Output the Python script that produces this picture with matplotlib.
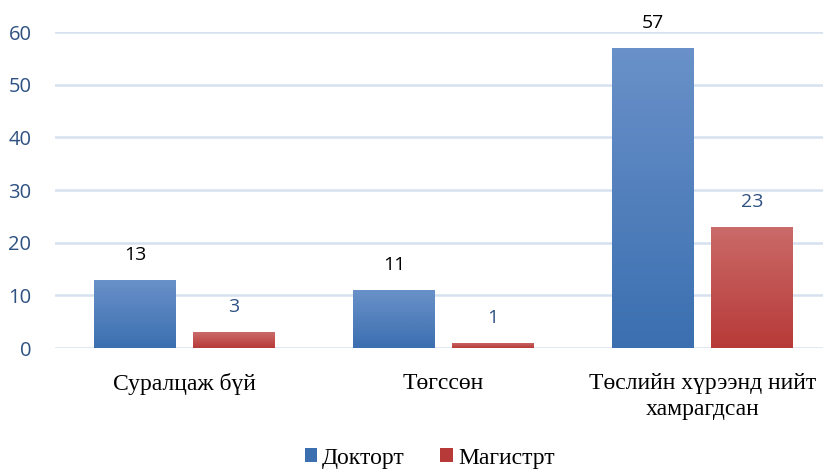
import numpy as np
import matplotlib
matplotlib.use("Agg")
from matplotlib import pyplot as plt
from matplotlib.colors import LinearSegmentedColormap
from matplotlib.patches import Patch

categories = ["Суралцаж бүй", "Төгссөн", "Төслийн хүрээнд нийт\nхамрагдсан"]
doctor = [13, 11, 57]
master = [3, 1, 23]
series_names = ["Докторт", "Магистрт"]
y_ticks = [0, 10, 20, 30, 40, 50, 60]

BLUE_TOP, BLUE_BOT = "#6A91C9", "#3B6FB0"
RED_TOP, RED_BOT = "#CA6B69", "#B73A38"
TICK_COLOR = "#2E5182"
GRID_COLOR = "#D6E1F0"

fig = plt.figure(figsize=(8.23, 4.69), dpi=100)
ax = fig.add_axes([55 / 823, 1 - 348 / 469, 1 - 55 / 823, (348 - 32) / 469])

x = np.arange(len(categories))
width = 0.313
offset = 0.191


def gradient_bars(xs, vals, top, bot):
    cmap = LinearSegmentedColormap.from_list("g", [bot, top])
    bars = ax.bar(xs, vals, width, color="none", edgecolor="none", zorder=3)
    grad = np.linspace(0, 1, 256).reshape(-1, 1)
    for b in bars:
        x0, y0 = b.get_x(), b.get_y()
        w, h = b.get_width(), b.get_height()
        im = ax.imshow(grad, cmap=cmap, origin="lower", aspect="auto",
                       extent=[x0, x0 + w, y0, y0 + h], zorder=3)
        im.set_clip_path(b)
    return bars


bars_d = gradient_bars(x - offset, doctor, BLUE_TOP, BLUE_BOT)
bars_m = gradient_bars(x + offset, master, RED_TOP, RED_BOT)

for b, v in zip(bars_d, doctor):
    ax.annotate(str(v), (b.get_x() + b.get_width() / 2, v), xytext=(0, 18),
                textcoords="offset points", ha="center", va="center",
                fontsize=14, color="black", family="Open Sans",
                annotation_clip=False)
for b, v in zip(bars_m, master):
    ax.annotate(str(v), (b.get_x() + b.get_width() / 2, v), xytext=(0, 18),
                textcoords="offset points", ha="center", va="center",
                fontsize=14, color=TICK_COLOR, family="Open Sans",
                annotation_clip=False)

ax.set_xlim(-0.5, 2.5 - 9 / 259)
ax.set_ylim(0, 60)
ax.set_yticks(y_ticks)
ax.set_yticklabels([str(t) for t in y_ticks], color=TICK_COLOR,
                   fontsize=14.5, family="Open Sans")
ax.set_xticks(x)
ax.set_xticklabels(categories, family="Liberation Serif", fontsize=17,
                   color="black", linespacing=1.3, va="top")
ax.tick_params(axis="both", length=0)
ax.tick_params(axis="x", pad=18)
ax.tick_params(axis="y", pad=17)
for s in ax.spines.values():
    s.set_visible(False)
ax.yaxis.grid(True, color=GRID_COLOR, linewidth=1.8, zorder=0)
ax.set_axisbelow(True)

handles = [Patch(facecolor=BLUE_BOT, edgecolor="none"),
           Patch(facecolor=RED_BOT, edgecolor="none")]
fig.legend(handles, series_names, loc="center", bbox_to_anchor=(0.522, 1 - 458 / 469),
           ncol=2, frameon=False, prop={"family": "Liberation Serif", "size": 17},
           handlelength=0.55, handleheight=0.55, handletextpad=0.2, columnspacing=1.5)

fig.savefig("out.png", dpi=100)
